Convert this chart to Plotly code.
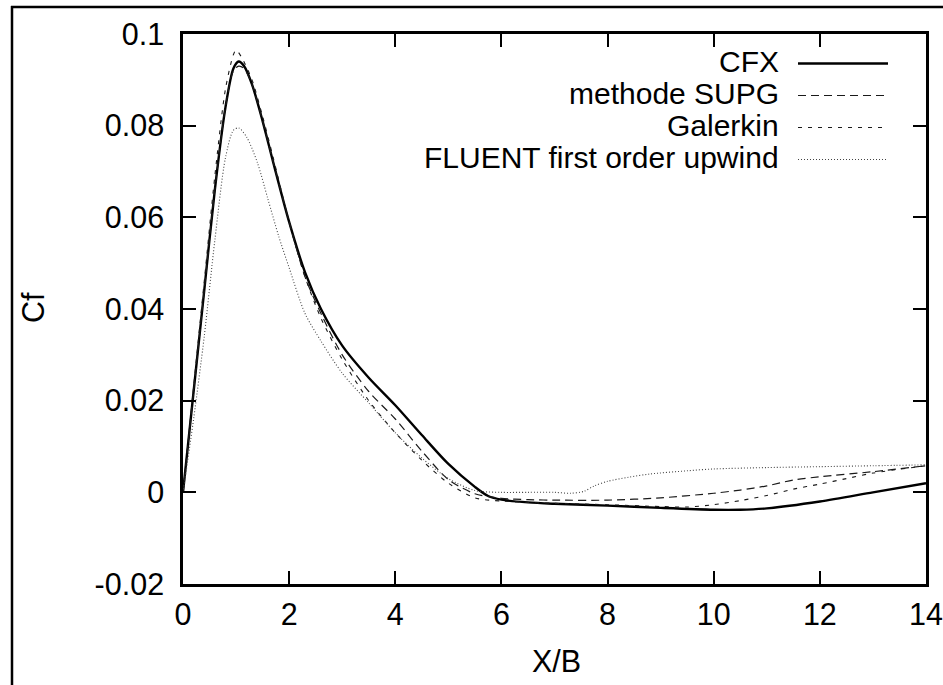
import plotly.graph_objects as go

# ---- data ----
cfx_x = [0, 0.2, 0.4, 0.6, 0.8, 0.95, 1.05, 1.15, 1.3, 1.5, 1.7, 2.0, 2.3, 2.6, 3.0, 3.5, 4.0, 4.5, 5.0, 5.5, 5.75, 6.0, 6.5, 7.0, 8.0, 9.0, 10.0, 10.5, 11.0, 12.0, 13.0, 14.0]
cfx_y = [0, 0.022, 0.044, 0.066, 0.084, 0.0925, 0.094, 0.093, 0.089, 0.081, 0.072, 0.059, 0.048, 0.040, 0.032, 0.025, 0.019, 0.0125, 0.0062, 0.0012, -0.0008, -0.0016, -0.0022, -0.0025, -0.0029, -0.0034, -0.0038, -0.0038, -0.0035, -0.0020, 0.0000, 0.0020]

supg_x = [0, 0.2, 0.4, 0.6, 0.8, 0.95, 1.05, 1.15, 1.3, 1.5, 1.7, 2.0, 2.3, 2.6, 3.0, 3.5, 4.0, 4.5, 5.0, 5.5, 6.0, 6.5, 7.0, 8.0, 9.0, 10.0, 10.5, 11.0, 11.5, 12.0, 13.0, 14.0]
supg_y = [0, 0.022, 0.044, 0.066, 0.084, 0.092, 0.093, 0.0925, 0.089, 0.081, 0.072, 0.059, 0.047, 0.039, 0.030, 0.022, 0.016, 0.009, 0.0028, -0.0003, -0.0013, -0.0016, -0.0017, -0.0017, -0.0012, -0.0002, 0.0005, 0.0014, 0.0027, 0.0034, 0.0045, 0.0058]

gal_x = [0, 0.2, 0.4, 0.6, 0.8, 0.95, 1.0, 1.1, 1.3, 1.5, 1.7, 2.0, 2.3, 2.6, 3.0, 3.5, 4.0, 4.5, 5.0, 5.5, 6.0, 6.5, 7.0, 8.0, 9.0, 9.5, 10.0, 10.5, 11.0, 11.5, 12.0, 12.5, 13.0, 14.0]
gal_y = [0, 0.023, 0.046, 0.069, 0.088, 0.0955, 0.0965, 0.095, 0.090, 0.082, 0.073, 0.059, 0.047, 0.038, 0.029, 0.020, 0.013, 0.007, 0.002, -0.0012, -0.0019, -0.0022, -0.0024, -0.0027, -0.0031, -0.0032, -0.0027, -0.0018, -0.0007, 0.0007, 0.0018, 0.0030, 0.0042, 0.0058]

flu_x = [0, 0.2, 0.4, 0.6, 0.8, 0.95, 1.05, 1.2, 1.4, 1.6, 1.8, 2.0, 2.3, 2.6, 3.0, 3.5, 4.0, 4.5, 5.0, 5.5, 6.0, 6.5, 7.0, 7.3, 7.55, 7.75, 8.0, 8.4, 8.8, 9.5, 10.0, 11.0, 12.0, 13.0, 14.0]
flu_y = [0, 0.016, 0.034, 0.055, 0.073, 0.079, 0.0795, 0.0775, 0.072, 0.064, 0.056, 0.049, 0.039, 0.033, 0.026, 0.0195, 0.013, 0.0075, 0.003, 0.0004, 0.0, 0.0, 0.0, -0.0002, 0.0002, 0.0014, 0.0024, 0.0033, 0.0040, 0.0047, 0.0051, 0.0054, 0.0056, 0.0058, 0.0060]

series_names = ["CFX", "methode SUPG", "Galerkin", "FLUENT first order upwind"]
x_ticks = [0, 2, 4, 6, 8, 10, 12, 14]
x_ticktext = ["0", "2", "4", "6", "8", "10", "12", "14"]
y_ticks = [-0.02, 0, 0.02, 0.04, 0.06, 0.08, 0.1]
y_ticktext = ["-0.02", "0", "0.02", "0.04", "0.06", "0.08", "0.1"]

# ---- styles ----
styles = [
    dict(color="#000000", width=2.4, dash="solid"),
    dict(color="#1a1a1a", width=1.2, dash="8px,5px"),
    dict(color="#1a1a1a", width=1.1, dash="4px,6px"),
    dict(color="#444444", width=1.1, dash="1px,2px"),
]
FONT = "Liberation Sans, Arial, sans-serif"
TICK_SIZE = 30.5
LEG_SIZE = 30

fig = go.Figure()
for (xs, ys), name, st in zip([(cfx_x, cfx_y), (supg_x, supg_y), (gal_x, gal_y), (flu_x, flu_y)], series_names, styles):
    fig.add_trace(go.Scatter(x=xs, y=ys, mode="lines", name=name,
                             line=dict(color=st["color"], width=st["width"], dash=st["dash"],
                                       shape="spline", smoothing=0.8),
                             showlegend=False))

W, H = 943, 685
ML, MR, MT, MB = 183, 17, 34, 101
PW, PH = W - ML - MR, H - MT - MB

def px_to_paper_x(px):
    return (px - ML) / PW

def px_to_paper_y(py):
    return (H - MB - py) / PH

shapes = []
annotations = []
# custom legend (text right-aligned, sample to the right)
row_y = [63.5, 95.5, 127.5, 159.5]
for name, st, ry in zip(series_names, styles, row_y):
    yp = px_to_paper_y(ry)
    annotations.append(dict(x=px_to_paper_x(780), y=yp, xref="paper", yref="paper",
                            text=name, showarrow=False, xanchor="right", yanchor="middle",
                            height=29, valign="bottom", borderpad=0,
                            font=dict(family=FONT, size=LEG_SIZE, color="#000")))
    shapes.append(dict(type="line", xref="paper", yref="paper",
                       x0=px_to_paper_x(798), x1=px_to_paper_x(888), y0=yp, y1=yp,
                       line=dict(color=st["color"], width=st["width"], dash=st["dash"])))

# outer picture frame (only left and top edges are visible in the reference)
shapes.append(dict(type="line", xref="paper", yref="paper",
                   x0=px_to_paper_x(12), x1=px_to_paper_x(12),
                   y0=px_to_paper_y(700), y1=px_to_paper_y(6),
                   line=dict(color="#000", width=2.5), layer="above"))
shapes.append(dict(type="line", xref="paper", yref="paper",
                   x0=px_to_paper_x(11), x1=px_to_paper_x(960),
                   y0=px_to_paper_y(7), y1=px_to_paper_y(7),
                   line=dict(color="#000", width=2.5), layer="above"))

annotations.append(dict(x=px_to_paper_x(556), y=px_to_paper_y(661), xref="paper", yref="paper",
                        text="X/B", showarrow=False, xanchor="center", yanchor="middle",
                        font=dict(family=FONT, size=TICK_SIZE, color="#000")))
annotations.append(dict(x=px_to_paper_x(33), y=px_to_paper_y(308), xref="paper", yref="paper",
                        text="Cf", showarrow=False, xanchor="center", yanchor="middle", textangle=-90,
                        font=dict(family=FONT, size=TICK_SIZE, color="#000")))

axis_common = dict(showgrid=False, zeroline=False, showline=True, linecolor="#000", linewidth=2.5,
                   mirror="ticks", ticks="inside", ticklen=13, tickwidth=2, tickcolor="#000",
                   automargin=False,
                   tickfont=dict(family=FONT, size=TICK_SIZE, color="#000"))

fig.update_layout(
    width=W, height=H,
    margin=dict(l=ML, r=MR, t=MT, b=MB, pad=0, autoexpand=False),
    paper_bgcolor="white", plot_bgcolor="white",
    xaxis=dict(range=[0, 14], tickvals=x_ticks, ticktext=x_ticktext, ticklabelstandoff=2, **axis_common),
    yaxis=dict(range=[-0.02, 0.1], tickvals=y_ticks, ticktext=y_ticktext, ticklabelstandoff=10, **axis_common),
    shapes=shapes, annotations=annotations,
)

fig.write_html("out.html")
